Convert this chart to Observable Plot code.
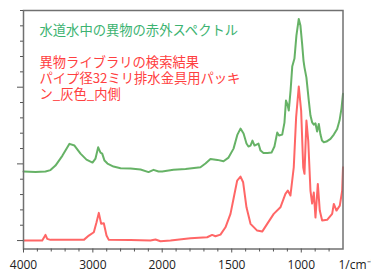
<!DOCTYPE html>
<html><head><meta charset="utf-8">
<script src="https://cdn.jsdelivr.net/npm/d3@7"></script>
<script src="https://cdn.jsdelivr.net/npm/@observablehq/plot@0.6"></script>
<style>
html,body{margin:0;padding:0;background:#fff;}
</style></head><body><div id="chart"></div>
<script>
// Titles
const greenTitle = "水道水中の異物の赤外スペクトル";
const redTitle = ["異物ライブラリの検索結果", "パイプ径32ミリ排水金具用パッキ", "ン_灰色_内側"];
const xUnit = "1/cm⁻¹";

// Axis ticks
const xMajorTicks = [4000, 3000, 2000, 1500, 1000];
const xMinorTicks = [3800, 3600, 3400, 3200, 2800, 2600, 2400, 2200, 1900, 1800, 1700, 1600, 1400, 1300, 1200, 1100, 900, 800];
const yMajorTicks = [0, 1, 2];
const yMinorTicks = [0.2, 0.4, 0.6, 0.8, 1.2, 1.4, 1.6, 1.8, 2.2, 2.4, 2.6, 2.8, 3.0];

// Green spectrum (sample from tap water)
const greenWn = [4000, 3827, 3683, 3611, 3539, 3438, 3337, 3265, 3178, 3092, 3005, 2962, 2923, 2890, 2865, 2832, 2789, 2702, 2600, 2456, 2312, 2197, 2125, 2053, 2000,
  1919, 1832, 1725, 1689, 1653, 1603, 1559, 1523, 1487, 1459, 1437, 1415, 1394, 1380, 1365, 1351, 1336, 1322, 1308, 1293, 1272, 1243, 1214, 1193, 1173, 1160, 1137, 1121, 1110, 1099, 1090, 1077, 1065, 1049, 1035, 1018, 1006, 994, 984, 977, 963, 946, 934, 922, 910, 898, 886, 874, 862, 851, 838, 819, 790, 766, 742, 725, 711, 700];
const greenAbs = [0.900, 0.893, 0.900, 0.919, 0.978, 1.108, 1.261, 1.239, 1.134, 1.056, 1.017, 1.069, 1.216, 1.147, 1.134, 1.043, 1.004, 0.965, 0.943, 0.939, 0.926, 0.893, 0.922, 0.900, 0.900,
  0.922, 0.932, 0.956, 1.004, 1.063, 1.052, 1.034, 1.082, 1.199, 1.382, 1.460, 1.395, 1.265, 1.226, 1.239, 1.304, 1.239, 1.252, 1.265, 1.173, 1.141, 1.141, 1.147, 1.226, 1.408, 1.369, 1.382, 1.538, 1.825, 1.773, 1.695, 1.956, 2.269, 2.373, 2.673, 2.890, 2.803, 2.568, 2.347, 2.259, 2.125, 1.825, 1.630, 1.542, 1.512, 1.529, 1.421, 1.521, 1.382, 1.304, 1.282, 1.291, 1.326, 1.382, 1.456, 1.565, 1.721, 1.913];

// Red spectrum (library match)
const redWn = [4000, 3730, 3683, 3658, 3611, 3130, 3058, 2986, 2947, 2914, 2880, 2842, 2803, 2770, 2457, 2169, 2097, 2025, 1940, 1797, 1677, 1641, 1617, 1581, 1545, 1509, 1485, 1461, 1437, 1418, 1394, 1365, 1317, 1281, 1245, 1198, 1150, 1114, 1097, 1078, 1054, 1037, 1018, 1001, 986, 977, 963, 950, 934, 922, 910, 898, 881, 867, 850, 814, 778, 766, 747, 723, 706, 700];
const redAbs = [0.000, 0.000, 0.074, 0.022, 0.009, 0.009, 0.065, 0.108, 0.239, 0.361, 0.218, 0.226, 0.065, 0.009, 0.007, 0.000, 0.013, -0.009, 0.000, 0.030, 0.043, 0.074, 0.056, 0.078, 0.173, 0.348, 0.565, 0.782, 0.834, 0.760, 0.433, 0.218, 0.130, 0.117, 0.218, 0.348, 0.434, 0.609, 0.652, 0.587, 0.956, 1.608, 2.008, 1.695, 0.956, 0.870, 1.565, 1.304, 0.652, 0.482, 0.626, 0.300, 0.739, 0.391, 0.261, 0.270, 0.348, 0.478, 0.391, 0.456, 0.652, 0.956];

const greenData = greenWn.map((wn, i) => ({wn, abs: greenAbs[i]}));
const redData = redWn.map((wn, i) => ({wn, abs: redAbs[i]}));

const jp = "'Noto Sans CJK JP', 'Noto Sans CJK SC', sans-serif";
const chart = Plot.plot({
  width: 371,
  height: 271,
  marginTop: 10,
  marginBottom: 22.5,
  marginLeft: 23,
  marginRight: 28.5,
  style: {fontFamily: "'Open Sans', sans-serif", fontSize: "12px", color: "#222", background: "#fff", overflow: "visible"},
  x: {type: "linear", domain: [4000, 2000, 700], range: [23, 161.7, 342.5]},
  y: {domain: [-0.11, 3.0]},
  marks: [
    Plot.line(greenData, {x: "wn", y: "abs", stroke: "#55aa55", strokeWidth: 2, strokeOpacity: 0.9}),
    Plot.line(redData, {x: "wn", y: "abs", stroke: "#ff5555", strokeWidth: 2, strokeOpacity: 0.9}),
    Plot.frame({stroke: "#707070", strokeWidth: 1.5}),
    Plot.axisX(xMajorTicks, {tickSize: 4, tickPadding: 7, tickFormat: "d", label: null, fontSize: 12, stroke: "#555"}),
    Plot.axisX(xMinorTicks, {tickSize: 3, tickFormat: () => "", label: null, stroke: "#555"}),
    Plot.axisY(yMajorTicks, {tickSize: 6, tickFormat: () => "", label: null, stroke: "#555"}),
    Plot.axisY(yMinorTicks, {tickSize: 3, tickFormat: () => "", label: null, stroke: "#555"}),
    Plot.text([greenTitle], {text: d => d, frameAnchor: "top-left", dx: 16, dy: 20.7, lineAnchor: "middle", textAnchor: "start", fill: "#3cb371", fontSize: 13.3, fontFamily: jp}),
    Plot.text([redTitle.join("\n")], {text: d => d, frameAnchor: "top-left", dx: 16, dy: 45, lineAnchor: "top", lineHeight: 1.2, textAnchor: "start", fill: "#ff4040", fontSize: 13.3, fontFamily: jp}),
    Plot.text([xUnit], {text: d => d, frameAnchor: "bottom-right", dx: -4.5, dy: 16, lineAnchor: "middle", textAnchor: "start", fill: "#222", fontSize: 12})
  ]
});
document.getElementById("chart").appendChild(chart);
</script>
</body></html>
